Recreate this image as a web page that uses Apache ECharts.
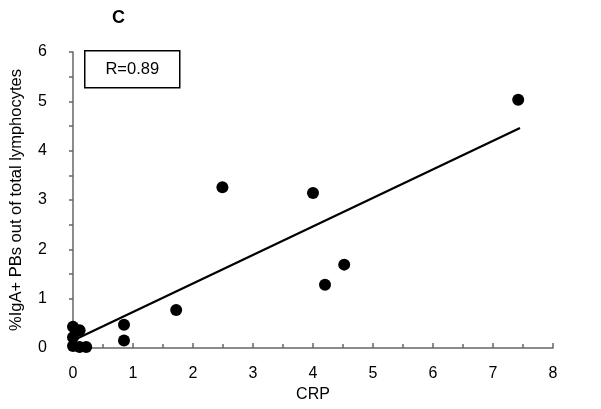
<!DOCTYPE html>
<html>
<head>
<meta charset="utf-8">
<script src="https://cdn.jsdelivr.net/npm/echarts@6/dist/echarts.min.js"></script>
<style>html,body{margin:0;padding:0;background:#fff}#c{width:601px;height:409px}</style>
</head>
<body>
<div id="c"></div>
<script>
var crp = [0, 0.11, 0, 0, 0.11, 0.22, 0.85, 0.85, 1.72, 2.49, 4.0, 4.2, 4.52, 7.42];
var igaPB = [0.43, 0.36, 0.22, 0.04, 0.02, 0.02, 0.47, 0.15, 0.77, 3.26, 3.14, 1.28, 1.69, 5.03];
var trendX = [0, 7.45];
var trendY = [0.15, 4.46];
var xTicks = [0, 1, 2, 3, 4, 5, 6, 7, 8];
var yTicks = [0, 1, 2, 3, 4, 5, 6];
var panelLabel = 'C';
var rText = 'R=0.89';

var points = crp.map(function (x, i) { return [x, igaPB[i]]; });
var trend = trendX.map(function (x, i) { return [x, trendY[i]]; });

var chart = echarts.init(document.getElementById('c'));
var axisColor = '#666';
var font = 'Liberation Sans, Arial, sans-serif';
chart.setOption({
  animation: false,
  backgroundColor: '#fff',
  title: {
    text: panelLabel, left: 107, top: 4,
    textStyle: { fontFamily: font, fontSize: 18, fontWeight: 'bold', color: '#000' }
  },
  grid: { left: 71, right: 48, top: 52, bottom: 61 },
  xAxis: {
    type: 'value', min: xTicks[0], max: xTicks[xTicks.length - 1], interval: 1,
    name: 'CRP', nameLocation: 'middle', nameGap: 37,
    nameTextStyle: { fontFamily: font, fontSize: 16, color: '#000' },
    axisLine: { show: true, lineStyle: { color: axisColor, width: 1.5 } },
    axisTick: { show: true, inside: true, length: 5, lineStyle: { color: axisColor, width: 1.5 } },
    minorTick: { show: true, splitNumber: 2, length: 4, lineStyle: { color: axisColor, width: 1.5 } },
    axisLabel: { fontFamily: font, fontSize: 16, color: '#000', margin: 18 },
    splitLine: { show: false }
  },
  yAxis: {
    type: 'value', min: yTicks[0], max: yTicks[yTicks.length - 1], interval: 1,
    name: '%IgA+ PBs out of total lymphocytes', nameLocation: 'middle', nameGap: 48,
    nameTextStyle: { fontFamily: font, fontSize: 16.5, color: '#000' },
    axisLine: { show: true, lineStyle: { color: axisColor, width: 1.5 } },
    axisTick: { show: true, inside: false, length: 4, lineStyle: { color: axisColor, width: 1.5 } },
    minorTick: { show: true, splitNumber: 2, length: 4, lineStyle: { color: axisColor, width: 1.5 } },
    axisLabel: { fontFamily: font, fontSize: 16, color: '#000', margin: 26 },
    splitLine: { show: false }
  },
  series: [
    {
      type: 'line', data: trend, symbol: 'none', silent: true,
      lineStyle: { color: '#000', width: 2.2 }, z: 2
    },
    {
      type: 'scatter', data: points, symbol: 'circle', symbolSize: 12,
      itemStyle: { color: '#000', opacity: 1 }, z: 3
    }
  ],
  graphic: [{
    type: 'group', left: 84, top: 50,
    children: [
      { type: 'rect', shape: { x: 0, y: 0, width: 95, height: 37 },
        style: { fill: '#fff', stroke: '#000', lineWidth: 1.5 } },
      { type: 'text', x: 47.5, y: 19,
        style: { text: rText, fontFamily: font, fontSize: 16.5, fill: '#000', align: 'center', verticalAlign: 'middle' } }
    ]
  }]
});
</script>
</body>
</html>
